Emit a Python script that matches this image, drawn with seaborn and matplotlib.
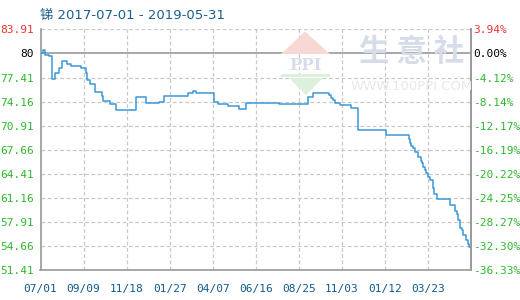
import numpy as np
import pandas as pd
import matplotlib
matplotlib.use("Agg")
import matplotlib.pyplot as plt
import matplotlib.dates as mdates
from matplotlib.patches import Polygon
import seaborn as sns

# ---- data ----
dates = ["2017-07-01", "2017-07-05", "2017-07-09", "2017-07-15", "2017-07-19", "2017-07-20",
         "2017-07-25", "2017-07-31", "2017-08-05", "2017-08-13", "2017-08-20", "2017-09-05",
         "2017-09-13", "2017-09-15", "2017-09-19", "2017-09-27", "2017-10-09", "2017-10-11",
         "2017-10-22", "2017-10-31", "2017-12-03", "2017-12-19", "2018-01-10", "2018-01-17",
         "2018-02-25", "2018-03-05", "2018-03-11", "2018-04-09", "2018-04-16", "2018-05-02",
         "2018-05-20", "2018-05-31", "2018-07-23", "2018-09-09", "2018-09-17", "2018-10-13",
         "2018-10-16", "2018-10-20", "2018-10-23", "2018-10-30", "2018-11-18", "2018-11-29",
         "2019-01-13", "2019-02-19", "2019-02-21", "2019-02-23", "2019-02-26", "2019-03-01",
         "2019-03-06", "2019-03-11", "2019-03-13", "2019-03-15", "2019-03-17", "2019-03-19",
         "2019-03-23", "2019-03-26", "2019-03-31", "2019-04-02", "2019-04-06", "2019-04-07",
         "2019-04-28", "2019-05-06", "2019-05-08", "2019-05-11", "2019-05-14", "2019-05-17",
         "2019-05-19", "2019-05-23", "2019-05-26", "2019-05-29", "2019-05-31"]
prices = [80.67, 81.08, 80.44, 80.27, 78.42, 77.17,
          77.98, 78.65, 79.60, 79.23, 78.96, 78.65,
          77.98, 77.07, 76.49, 75.41, 74.95, 74.24,
          73.83, 72.99, 74.74, 73.93, 74.15, 74.92,
          75.36, 75.55, 75.36, 74.15, 73.80, 73.57,
          73.12, 73.93, 73.80, 74.74, 75.28, 75.01,
          74.69, 74.38, 73.93, 73.66, 73.26, 70.37,
          69.66, 69.08, 68.62, 68.21, 67.86, 67.32,
          66.69, 66.19, 65.84, 65.38, 64.94, 64.49,
          64.03, 63.59, 62.47, 61.70, 61.34, 60.99,
          60.22, 59.45, 59.00, 58.19, 57.07, 56.84,
          56.17, 55.50, 54.96, 54.51, 54.15]

y_ticks = [51.41, 54.66, 57.91, 61.16, 64.41, 67.66, 70.91, 74.16, 77.41, 80.66, 83.91]
y_labels = ["51.41", "54.66", "57.91", "61.16", "64.41", "67.66", "70.91", "74.16", "77.41", "80", "83.91"]
pct_labels = ["-36.33%", "-32.30%", "-28.27%", "-24.25%", "-20.22%", "-16.19%", "-12.17%",
              "-8.14%", "-4.12%", "0.00%", "3.94%"]
x_ticks = ["2017-07-01", "2017-09-09", "2017-11-18", "2018-01-27", "2018-04-07",
           "2018-06-16", "2018-08-25", "2018-11-03", "2019-01-12", "2019-03-23"]
title = "锑 2017-07-01 - 2019-05-31"

df = pd.DataFrame({"date": pd.to_datetime(dates), "price": prices})

sns.set_theme(style="white")
plt.rcParams["font.family"] = ["DejaVu Sans", "Noto Sans CJK SC"]

W, H = 520, 300
fig = plt.figure(figsize=(W / 100, H / 100), dpi=100)
L, R, T, B = 40.5, 470.7, 29.3, 270.3
ax = fig.add_axes([L / W, 1 - B / H, (R - L) / W, (B - T) / H])

GREEN = "#2eb82e"
RED = "#ee3333"
BLUE_TXT = "#0f5a8c"
GRID = "#c8c8c8"
AXC = "#999999"

# watermark (decoration, figure coords in pixels)
def px(x, y):
    return (x / W, 1 - y / H)

fig.patches.append(Polygon([px(305, 31.5), px(281, 54), px(330, 54)], closed=True,
                           transform=fig.transFigure, facecolor="#f8d8d4", edgecolor="none", zorder=0))
fig.patches.append(Polygon([px(289, 78), px(323, 78), px(306, 95)], closed=True,
                           transform=fig.transFigure, facecolor="#dcf0dc", edgecolor="none", zorder=0))
fig.patches.append(Polygon([px(281, 74), px(330, 74), px(330, 76.5), px(281, 76.5)], closed=True,
                           transform=fig.transFigure, facecolor="#dcf0dc", edgecolor="none", zorder=0))
fig.text(305.5 / W, 1 - 65 / H, "PPI", fontsize=12, fontweight="bold", family="DejaVu Serif",
         color="#d6dde9", ha="center", va="center", zorder=0)
fig.text(412 / W, 1 - 52 / H, "生 意 社", fontsize=22, family=["Noto Sans CJK SC"],
         color="#d6dde9", ha="center", va="center", zorder=0, fontweight="bold")
fig.text(412 / W, 1 - 86 / H, "WWW.100PPI.COM", fontsize=9.5, color="#e8e8e8",
         ha="center", va="center", zorder=0)

ax.patch.set_alpha(0)

sns.lineplot(data=df, x="date", y="price", ax=ax, drawstyle="steps-post",
             color="#3a98d8", linewidth=1.1, zorder=3)

x0 = pd.Timestamp(dates[0])
x1 = pd.Timestamp(dates[-1])
ax.set_xlim(x0, x1)
ax.set_ylim(y_ticks[0], y_ticks[-1])

# grid lines
for i, yv in enumerate(y_ticks):
    if y_labels[i] == "80":
        ax.axhline(yv, color=AXC, lw=1.2, zorder=2)
    else:
        ax.axhline(yv, color=GRID, lw=0.9, ls=(0, (3, 2)), zorder=1)
for xv in pd.to_datetime(x_ticks):
    ax.axvline(xv, color=GRID, lw=0.9, ls=(0, (3, 2)), zorder=1)

ax.set_xticks(pd.to_datetime(x_ticks))
ax.xaxis.set_major_formatter(mdates.DateFormatter("%m/%d"))
ax.set_yticks(y_ticks)
ax.set_yticklabels(y_labels)
ax.set_xlabel("")
ax.set_ylabel("")
ax.tick_params(axis="x", length=0, pad=10, labelsize=8, labelcolor=BLUE_TXT)
ax.tick_params(axis="y", length=0, pad=5, labelsize=8)
for lab in ax.get_xticklabels() + ax.get_yticklabels():
    lab.set_family("DejaVu Sans Mono")
for i, lab in enumerate(ax.get_yticklabels()):
    lab.set_color(RED if i == len(y_ticks) - 1 else ("black" if y_labels[i] == "80" else GREEN))

ax2 = ax.twinx()
ax2.set_ylim(ax.get_ylim())
ax2.set_yticks(y_ticks)
ax2.set_yticklabels(pct_labels)
ax2.tick_params(axis="y", length=0, pad=2, labelsize=8)
for i, lab in enumerate(ax2.get_yticklabels()):
    lab.set_family("DejaVu Sans Mono")
    lab.set_color(RED if i == len(y_ticks) - 1 else ("black" if pct_labels[i] == "0.00%" else GREEN))

for a in (ax, ax2):
    for s in ["left", "bottom", "right"]:
        a.spines[s].set_color(AXC)
        a.spines[s].set_linewidth(1.2)
    a.spines["top"].set_visible(False)
ax2.spines["left"].set_visible(False)
ax2.spines["bottom"].set_visible(False)

fig.text(40 / W, 1 - 15 / H, title, fontsize=9.5, color="#1a5f8f", ha="left", va="center",
         family=["DejaVu Sans", "Noto Sans CJK SC"])

fig.savefig("out.png", dpi=100)
